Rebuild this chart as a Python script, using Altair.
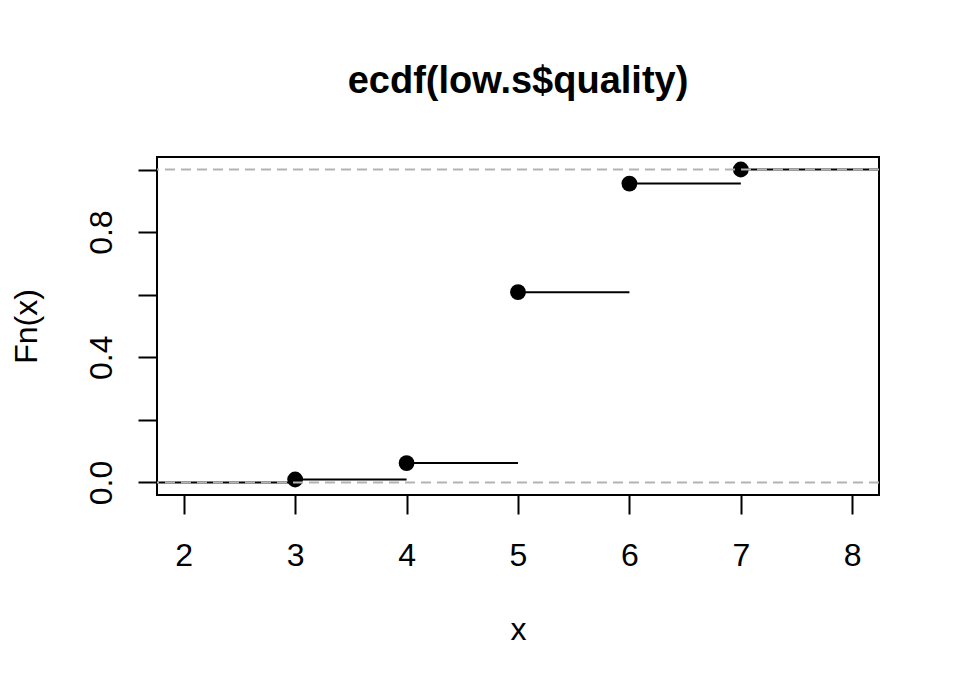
import altair as alt
import pandas as pd

# data
knots = [3, 4, 5, 6, 7]
fn_vals = [0.0096, 0.062, 0.608, 0.955, 1.0]
x_ticks = [2, 3, 4, 5, 6, 7, 8]
y_ticks = [0.0, 0.2, 0.4, 0.6, 0.8, 1.0]
ref_lines = [0.0, 1.0]
title_text = "ecdf(low.s$quality)"

xlim = [2, 8]
ylim = [0, 1]
xext = 0.04 * (xlim[1] - xlim[0])
yext = 0.04 * (ylim[1] - ylim[0])
xdom = [xlim[0] - xext, xlim[1] + xext]
ydom = [ylim[0] - yext, ylim[1] + yext]

pts = pd.DataFrame({"x": knots, "y": fn_vals})
starts = [xdom[0]] + knots
ends = knots + [xdom[1]]
levels = [0.0] + fn_vals
segs = pd.DataFrame({"x": starts, "x2": ends, "y": levels})
hl = pd.DataFrame({"y": ref_lines})

FONT = "Liberation Sans"

xscale = alt.Scale(domain=xdom, nice=False, zero=False)
yscale = alt.Scale(domain=ydom, nice=False, zero=False)

xaxis = alt.Axis(
    values=x_ticks, title="x", domain=False, grid=False, format="d",
    tickSize=19, tickWidth=2, tickColor="black",
    labelFont=FONT, labelFontSize=32, labelColor="black",
    labelPadding=51, labelBaseline="alphabetic", labelFlush=False,
    labelOverlap=False,
    titleFont=FONT, titleFontSize=32, titleFontWeight="normal", titleColor="black",
    titleX=361, titleY=144, titleBaseline="alphabetic", titleAlign="center",
)
yaxis = alt.Axis(
    values=y_ticks, title="Fn(x)", domain=False, grid=False,
    tickSize=19, tickWidth=2, tickColor="black",
    labelFont=FONT, labelFontSize=32, labelColor="black",
    labelAngle=-90, labelAlign="center", labelBaseline="alphabetic",
    labelPadding=27, labelFlush=False, labelOverlap=False,
    labelExpr="(round(datum.value*10) % 4 == 0 && datum.value < 0.95) ? format(datum.value, '.1f') : ''",
    titleFont=FONT, titleFontSize=32, titleFontWeight="normal", titleColor="black",
    titleAngle=-90, titleX=-121, titleY=169, titleBaseline="alphabetic", titleAlign="center",
)

seg_layer = alt.Chart(segs).mark_rule(color="black", strokeWidth=2).encode(
    x=alt.X("x:Q", scale=xscale, axis=xaxis),
    x2="x2:Q",
    y=alt.Y("y:Q", scale=yscale, axis=yaxis),
)
pt_layer = alt.Chart(pts).mark_circle(color="black", opacity=1, size=250).encode(
    x=alt.X("x:Q", scale=xscale),
    y=alt.Y("y:Q", scale=yscale),
)
hl_layer = alt.Chart(hl).mark_rule(color="#B3B3B3", strokeWidth=2, strokeDash=[10, 6]).encode(
    y=alt.Y("y:Q", scale=yscale),
)

chart = (
    alt.layer(seg_layer, pt_layer, hl_layer)
    .properties(
        width=722, height=338,
        background="white",
        title=alt.Title(title_text, font=FONT, fontSize=38, fontWeight="bold",
                        color="black", anchor="middle", frame="group", offset=56),
        autosize=alt.AutoSizeParams(type="none"),
        padding={"left": 149, "top": 149, "right": 60, "bottom": 170},
    )
    .configure_view(stroke="black", strokeWidth=2)
)

chart.save("out.html", embed_options={"renderer": "svg", "actions": False})
